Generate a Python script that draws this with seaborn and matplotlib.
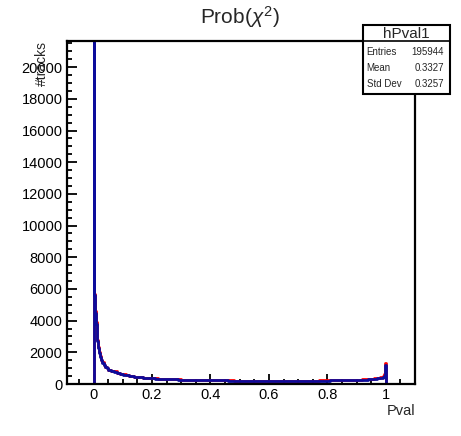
import numpy as np
import pandas as pd
import matplotlib
matplotlib.use("Agg")
import matplotlib.pyplot as plt
import seaborn as sns
from matplotlib.patches import Rectangle
from matplotlib.lines import Line2D
from matplotlib.ticker import MultipleLocator

# ---- data ----
bin_edges = ([-0.1, 0.0, 0.003, 0.006, 0.008, 0.010, 0.012, 0.015, 0.018, 0.022,
              0.026, 0.030, 0.035, 0.040, 0.045, 0.050] +
             [round(0.01 * i, 3) for i in range(6, 100)] +
             [0.993, 0.996, 0.998, 1.0, 1.1])

blue_counts = [
    0, 60000, 5600, 4500, 3800, 3200, 2700, 2250, 1950, 1700,
    1500, 1350, 1200, 1080, 980,
    900, 840, 780, 710, 650,
    595, 555, 520, 490, 460, 440, 420, 400, 385, 370,
    355, 345, 335, 325, 318, 310, 302, 295, 288, 282,
    276, 270, 265, 260, 256, 252, 248, 244, 240, 237,
    234, 231, 228, 226, 224, 222, 220, 218, 216, 214,
    212, 211, 210, 209, 208, 207, 206, 205, 205, 204,
    204, 203, 203, 203, 203, 203, 204, 204, 205, 205,
    206, 207, 208, 209, 210, 211, 212, 214, 216, 218,
    220, 222, 224, 226, 229, 232, 235, 239, 243, 248,
    254, 262, 270, 280, 292, 308, 328, 355, 395,
    450, 520, 620, 1180, 0]

red_counts = [
    0, 60000, 5700, 4600, 3900, 3300, 2780, 2320, 2000, 1750,
    1540, 1380, 1230, 1100, 1000,
    915, 850, 790, 720, 660,
    605, 565, 528, 498, 468, 446, 426, 406, 390, 375,
    360, 350, 340, 330, 322, 314, 306, 299, 292, 286,
    280, 274, 268, 263, 259, 255, 251, 247, 243, 240,
    237, 234, 231, 229, 227, 225, 223, 221, 219, 218,
    216, 215, 214, 213, 212, 211, 210, 210, 209, 209,
    209, 209, 209, 209, 210, 210, 211, 211, 212, 212,
    212, 213, 214, 215, 216, 217, 219, 221, 223, 225,
    228, 231, 234, 237, 240, 244, 248, 253, 258, 264,
    271, 280, 290, 302, 318, 338, 365, 400, 445,
    510, 600, 720, 1340, 0]

title_text = "Prob($\\chi^2$)"
xlabel_text = "Pval"
ylabel_text = "#tracks"
stats_name = "hPval1"
stats_rows = [("Entries", "195944"), ("Mean", "0.3327"), ("Std Dev", "0.3257")]

# ---- plotting ----
sns.set_style("ticks")
plt.rcParams["font.family"] = ["Liberation Sans", "DejaVu Sans"]
plt.rcParams["mathtext.fontset"] = "custom"
plt.rcParams["mathtext.rm"] = "Liberation Sans"
plt.rcParams["mathtext.it"] = "Liberation Sans:italic"

edges = np.array(bin_edges)
centers = (edges[:-1] + edges[1:]) / 2
red_df = pd.DataFrame({"pval": centers, "n": red_counts})
blue_df = pd.DataFrame({"pval": centers, "n": blue_counts})

fig = plt.figure(figsize=(4.61, 4.36), dpi=100)
ax = fig.add_axes([66.7 / 461, 1 - 384 / 436, (415 - 66.7) / 461, (384 - 41) / 436])

sns.histplot(data=red_df, x="pval", weights="n", bins=list(bin_edges),
             element="step", fill=False, color="#ff0000", linewidth=2.0, ax=ax)
sns.histplot(data=blue_df, x="pval", weights="n", bins=list(bin_edges),
             element="step", fill=False, color="#0c0c9c", linewidth=2.0, ax=ax)

ax.set_xlim(-0.092, 1.1)
ax.set_ylim(0, 21650)
ax.xaxis.set_minor_locator(MultipleLocator(0.05))
ax.yaxis.set_major_locator(MultipleLocator(2000))
ax.yaxis.set_minor_locator(MultipleLocator(500))
ax.set_xticks([0, 0.2, 0.4, 0.6, 0.8, 1.0])
ax.set_xticklabels(["0", "0.2", "0.4", "0.6", "0.8", "1"])
ax.tick_params(which="both", direction="in", top=False, right=False,
               labelsize=10.5, width=1.3, colors="black")
ax.tick_params(which="major", length=7.5, pad=3)
ax.tick_params(which="minor", length=3.8)
for s in ax.spines.values():
    s.set_linewidth(1.6)
    s.set_color("black")
    s.set_visible(True)

ax.set_xlabel("")
ax.set_ylabel("")
fig.text(415 / 461, 1 - 411 / 436, xlabel_text, ha="right", va="center", fontsize=10.5)
fig.text(42 / 461, 1 - 41 / 436, ylabel_text, ha="center", va="top", rotation=90, fontsize=10)
fig.text(240 / 461, 1 - 17 / 436, title_text, ha="center", va="center", fontsize=15)

# stats box
x0, x1, y0, y1, ysep = 363, 450, 25, 94, 41.5
W, H = 461, 436
box = Rectangle((x0 / W, 1 - y1 / H), (x1 - x0) / W, (y1 - y0) / H,
                transform=fig.transFigure, facecolor="white", edgecolor="black",
                linewidth=1.5, zorder=5)
fig.add_artist(box)
fig.add_artist(Line2D([x0 / W, x1 / W], [1 - ysep / H, 1 - ysep / H],
                      transform=fig.transFigure, color="black", linewidth=1.2, zorder=6))
fig.text((x0 + x1) / 2 / W, 1 - 33.5 / H, stats_name, ha="center", va="center",
         fontsize=11, zorder=7)
for (lab, val), yy in zip(stats_rows, [51.7, 67.7, 84.3]):
    fig.text(366.5 / W, 1 - yy / H, lab, ha="left", va="center", fontsize=7, zorder=7)
    fig.text(444 / W, 1 - yy / H, val, ha="right", va="center", fontsize=7, zorder=7)

fig.savefig("out.png", dpi=100)
